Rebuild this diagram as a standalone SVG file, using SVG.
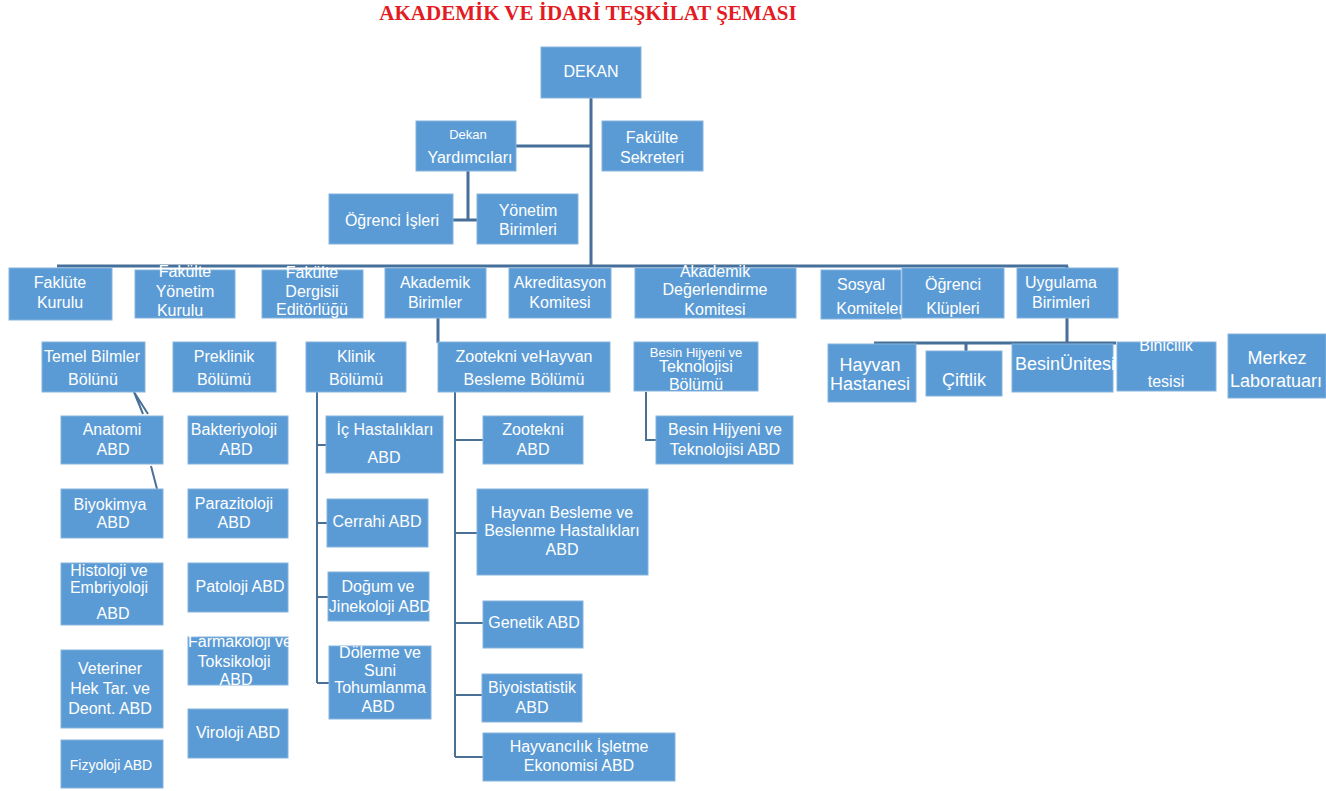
<svg xmlns="http://www.w3.org/2000/svg" width="1326" height="791" viewBox="0 0 1326 791">
<style>
.b{fill:#5B9BD5;stroke:#86B3DE;stroke-width:1}
.t{font-family:"Liberation Sans",Arial,sans-serif;font-size:16px;fill:#FFFFFF;text-anchor:middle}
.s{font-size:13px}
.m{font-size:14px}
.l{font-size:18px}
.c{fill:none;stroke:#46709A;stroke-width:3}
.c2{fill:none;stroke:#4A7096;stroke-width:2}
</style>
<rect width="1326" height="791" fill="#FFFFFF"/>
<text x="588" y="20" font-family="Liberation Serif,'Times New Roman',serif" font-weight="bold" font-size="21" fill="#E31B23" text-anchor="middle">AKADEMİK VE İDARİ TEŞKİLAT ŞEMASI</text>

<g id="connectors">
<path class="c" d="M591,98 V266 M516,146 H591 M468,171 V220 M453,220 H477 M57,266 H1068 M1067,266 V320 M438,318 V343 M874,343 H1116 M1067,318 V343 M966,343 V351"/>
<path class="c2" d="M134,392 L148,414 M134,392 L143,414 M151,466 L157,489"/>
<path class="c2" d="M317,392 V683 M317,445 H326 M317,523 H327 M317,597 H328 M317,683 H329"/>
<path class="c2" d="M455,392 V757 M455,440 H483 M455,533 H477 M455,623 H483 M455,695 H482 M455,757 H483"/>
<path class="c2" d="M646,392 V440 H656"/>
</g>

<g id="dekan"><rect class="b" x="541" y="47" width="100" height="51"/><text class="t" x="591" y="77">DEKAN</text></g>
<g id="dekan-yardimcilari"><rect class="b" x="416" y="121" width="100" height="50"/><text class="t s" x="468" y="139">Dekan</text><text class="t" x="470" y="163">Yardımcıları</text></g>
<g id="fakulte-sekreteri"><rect class="b" x="602" y="121" width="101" height="50"/><text class="t" x="652" y="143">Fakülte</text><text class="t" x="652" y="163">Sekreteri</text></g>
<g id="ogrenci-isleri"><rect class="b" x="329" y="194" width="124" height="50"/><text class="t" x="392" y="226">Öğrenci İşleri</text></g>
<g id="yonetim-birimleri"><rect class="b" x="477" y="194" width="101" height="50"/><text class="t" x="528" y="216">Yönetim</text><text class="t" x="528" y="235">Birimleri</text></g>

<g id="faklute-kurulu"><rect class="b" x="9" y="268" width="103" height="52"/><text class="t" x="60" y="288">Faklüte</text><text class="t" x="60" y="308">Kurulu</text></g>
<g id="fakulte-yonetim-kurulu"><rect class="b" x="135" y="270" width="100" height="48"/><text class="t" x="185" y="277">Fakülte</text><text class="t" x="185" y="297">Yönetim</text><text class="t" x="180" y="316">Kurulu</text></g>
<g id="fakulte-dergisi"><rect class="b" x="262" y="270" width="101" height="48"/><text class="t" x="312" y="278">Fakülte</text><text class="t" x="312" y="297">Dergisii</text><text class="t" x="312" y="315">Editörlüğü</text></g>
<g id="akademik-birimler"><rect class="b" x="385" y="268" width="101" height="50"/><text class="t" x="435" y="288">Akademik</text><text class="t" x="435" y="308">Birimler</text></g>
<g id="akreditasyon"><rect class="b" x="509" y="268" width="102" height="50"/><text class="t" x="560" y="288">Akreditasyon</text><text class="t" x="560" y="308">Komitesi</text></g>
<g id="akademik-degerlendirme"><rect class="b" x="635" y="268" width="161" height="50"/><text class="t" x="715" y="277">Akademik</text><text class="t" x="715" y="295">Değerlendirme</text><text class="t" x="715" y="315">Komitesi</text></g>
<g id="sosyal-komiteler"><rect class="b" x="821" y="270" width="80" height="49"/><text class="t" x="861" y="290">Sosyal</text><text class="t" x="870" y="314">Komiteler</text></g>
<g id="ogrenci-klupleri"><rect class="b" x="902" y="268" width="102" height="50"/><text class="t" x="953" y="290">Öğrenci</text><text class="t" x="953" y="314">Klüpleri</text></g>
<g id="uygulama-birimleri"><rect class="b" x="1017" y="268" width="101" height="50"/><text class="t" x="1061" y="288">Uygulama</text><text class="t" x="1061" y="308">Birimleri</text></g>

<g id="temel-bilimler"><rect class="b" x="42" y="342" width="103" height="50"/><text class="t" x="92" y="362">Temel Bilmler</text><text class="t" x="93" y="385">Bölünü</text></g>
<g id="preklinik"><rect class="b" x="173" y="342" width="103" height="50"/><text class="t" x="224" y="362">Preklinik</text><text class="t" x="224" y="385">Bölümü</text></g>
<g id="klinik"><rect class="b" x="306" y="342" width="100" height="50"/><text class="t" x="356" y="362">Klinik</text><text class="t" x="356" y="385">Bölümü</text></g>
<g id="zootekni-bolumu"><rect class="b" x="438" y="342" width="172" height="50"/><text class="t" x="524" y="362">Zootekni veHayvan</text><text class="t" x="524" y="385">Besleme Bölümü</text></g>
<g id="besin-bolumu"><rect class="b" x="634" y="342" width="124" height="49"/><text class="t s" x="696" y="357">Besin Hijyeni ve</text><text class="t" x="696" y="372">Teknolojisi</text><text class="t" x="696" y="390">Bölümü</text></g>

<g id="hayvan-hastanesi"><rect class="b" x="828" y="344" width="88" height="58"/><text class="t l" x="870" y="371">Hayvan</text><text class="t l" x="870" y="390">Hastanesi</text></g>
<g id="ciftlik"><rect class="b" x="926" y="351" width="76" height="45"/><text class="t l" x="964" y="386">Çiftlik</text></g>
<g id="besin-unitesi"><rect class="b" x="1012" y="344" width="101" height="48"/><text class="t l" x="1065" y="370">BesinÜnitesi</text></g>
<g id="binicilik"><rect class="b" x="1117" y="342" width="99" height="49"/><text class="t" x="1166" y="351">Binicilik</text><text class="t" x="1166" y="387">tesisi</text></g>
<g id="merkez-lab"><rect class="b" x="1228" y="334" width="98" height="64"/><text class="t l" x="1277" y="364">Merkez</text><text class="t l" x="1276" y="387">Laboratuarı</text></g>

<g id="anatomi"><rect class="b" x="61" y="416" width="102" height="48"/><text class="t" x="112" y="435">Anatomi</text><text class="t" x="113" y="455">ABD</text></g>
<g id="biyokimya"><rect class="b" x="61" y="489" width="102" height="49"/><text class="t" x="110" y="510">Biyokimya</text><text class="t" x="113" y="528">ABD</text></g>
<g id="histoloji"><rect class="b" x="61" y="563" width="102" height="62"/><text class="t" x="109" y="576">Histoloji ve</text><text class="t" x="109" y="593">Embriyoloji</text><text class="t" x="113" y="619">ABD</text></g>
<g id="veteriner-hek"><rect class="b" x="61" y="650" width="102" height="78"/><text class="t" x="110" y="674">Veteriner</text><text class="t" x="110" y="694">Hek Tar. ve</text><text class="t" x="110" y="714">Deont. ABD</text></g>
<g id="fizyoloji"><rect class="b" x="61" y="740" width="102" height="48"/><text class="t m" x="111" y="770">Fizyoloji ABD</text></g>

<g id="bakteriyoloji"><rect class="b" x="188" y="416" width="100" height="48"/><text class="t" x="234" y="435">Bakteriyoloji</text><text class="t" x="236" y="455">ABD</text></g>
<g id="parazitoloji"><rect class="b" x="188" y="489" width="100" height="49"/><text class="t" x="234" y="509">Parazitoloji</text><text class="t" x="234" y="528">ABD</text></g>
<g id="patoloji"><rect class="b" x="188" y="563" width="100" height="49"/><text class="t" x="240" y="592">Patoloji ABD</text></g>
<g id="farmakoloji"><rect class="b" x="188" y="637" width="100" height="48"/><text class="t" x="240" y="647">Farmakoloji ve</text><text class="t" x="234" y="667">Toksikoloji</text><text class="t" x="236" y="685">ABD</text></g>
<g id="viroloji"><rect class="b" x="188" y="709" width="100" height="49"/><text class="t" x="238" y="738">Viroloji ABD</text></g>

<g id="ic-hastaliklari"><rect class="b" x="326" y="416" width="117" height="57"/><text class="t" x="385" y="435">İç Hastalıkları</text><text class="t" x="384" y="463">ABD</text></g>
<g id="cerrahi"><rect class="b" x="327" y="499" width="101" height="48"/><text class="t" x="377" y="527">Cerrahi ABD</text></g>
<g id="dogum"><rect class="b" x="328" y="572" width="101" height="49"/><text class="t" x="378" y="592">Doğum ve</text><text class="t" x="380" y="612">Jinekoloji ABD</text></g>
<g id="dolerme"><rect class="b" x="329" y="646" width="102" height="73"/><text class="t" x="380" y="658">Dölerme ve</text><text class="t" x="380" y="676">Suni</text><text class="t" x="380" y="693">Tohumlanma</text><text class="t" x="378" y="712">ABD</text></g>

<g id="zootekni"><rect class="b" x="483" y="416" width="100" height="48"/><text class="t" x="533" y="435">Zootekni</text><text class="t" x="533" y="455">ABD</text></g>
<g id="hayvan-besleme"><rect class="b" x="477" y="489" width="171" height="86"/><text class="t" x="562" y="518">Hayvan Besleme ve</text><text class="t" x="562" y="536">Beslenme Hastalıkları</text><text class="t" x="562" y="555">ABD</text></g>
<g id="genetik"><rect class="b" x="483" y="601" width="100" height="47"/><text class="t" x="534" y="628">Genetik ABD</text></g>
<g id="biyoistatistik"><rect class="b" x="482" y="674" width="100" height="48"/><text class="t" x="532" y="693">Biyoistatistik</text><text class="t" x="532" y="713">ABD</text></g>
<g id="hayvancilik"><rect class="b" x="483" y="733" width="192" height="48"/><text class="t" x="579" y="752">Hayvancılık İşletme</text><text class="t" x="579" y="771">Ekonomisi ABD</text></g>

<g id="besin-abd"><rect class="b" x="656" y="416" width="137" height="48"/><text class="t" x="725" y="435">Besin Hijyeni ve</text><text class="t" x="725" y="455">Teknolojisi ABD</text></g>
</svg>
